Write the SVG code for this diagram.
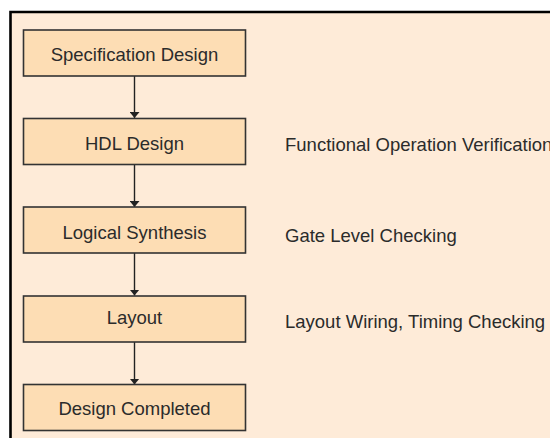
<svg xmlns="http://www.w3.org/2000/svg" width="550" height="438" viewBox="0 0 550 438">
  <style>
    .box { fill: #FDDDB4; stroke: #333333; stroke-width: 1.6; }
    .label { font-family: "Liberation Sans", Arial, sans-serif; font-size: 18.5px; fill: #2b2b2b; }
    .center { text-anchor: middle; }
    .edge { stroke: #222222; stroke-width: 1.4; fill: none; marker-end: url(#arrow); }
  </style>
  <defs>
    <marker id="arrow" viewBox="0 0 6 10" refX="6" refY="5" markerWidth="6" markerHeight="10" markerUnits="userSpaceOnUse" orient="auto">
      <path d="M0,0 L6,5 L0,10 Z" fill="#222222"/>
    </marker>
  </defs>

  <!-- panel background and frame -->
  <rect x="10" y="12" width="540" height="426" fill="#FEEBD8"/>
  <path d="M10.5,438 V12 H550" fill="none" stroke="#000000" stroke-width="2.6"/>

  <!-- connectors -->
  <g id="connectors">
    <line class="edge" x1="134.5" y1="76" x2="134.5" y2="118"/>
    <line class="edge" x1="134.5" y1="164.5" x2="134.5" y2="207"/>
    <line class="edge" x1="134.5" y1="253" x2="134.5" y2="295.5"/>
    <line class="edge" x1="134.5" y1="342" x2="134.5" y2="384.5"/>
  </g>

  <!-- process steps -->
  <g id="spec">
    <rect class="box" x="23.5" y="30" width="222" height="46"/>
    <text class="label center" x="134.5" y="60.5">Specification Design</text>
  </g>
  <g id="hdl">
    <rect class="box" x="23.5" y="118.5" width="222" height="46"/>
    <text class="label center" x="134.5" y="150">HDL Design</text>
  </g>
  <g id="synthesis">
    <rect class="box" x="23.5" y="207" width="222" height="46"/>
    <text class="label center" x="134.5" y="238.5">Logical Synthesis</text>
  </g>
  <g id="layout">
    <rect class="box" x="23.5" y="296" width="222" height="46"/>
    <text class="label center" x="134.5" y="323.5">Layout</text>
  </g>
  <g id="completed">
    <rect class="box" x="23.5" y="384.5" width="222" height="46"/>
    <text class="label center" x="134.5" y="415">Design Completed</text>
  </g>

  <!-- verification notes -->
  <g id="notes">
    <text class="label" x="285" y="150.5">Functional Operation Verification</text>
    <text class="label" x="285" y="241.5">Gate Level Checking</text>
    <text class="label" x="285" y="328">Layout Wiring, Timing Checking</text>
  </g>
</svg>
